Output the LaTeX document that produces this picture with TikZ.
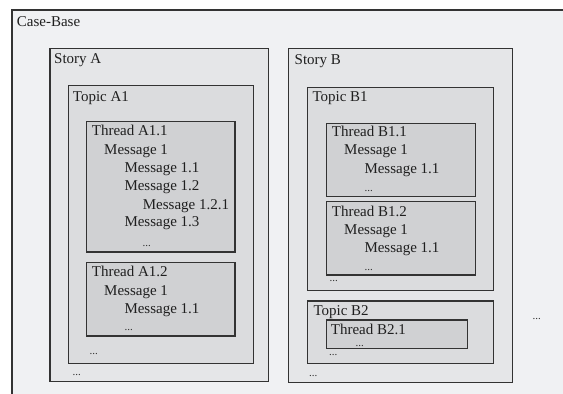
\documentclass[tikz,border=0pt]{standalone}
\usepackage{fontspec}
\setmainfont{Liberation Serif}
\begin{document}
\begin{tikzpicture}[x=1pt,y=-1pt,
  lvl/.style={draw=black!80, line width=1.1pt},
  casefill/.style={lvl, fill={rgb,255:red,240;green,241;blue,243}},
  storyfill/.style={lvl, fill={rgb,255:red,229;green,230;blue,232}},
  topicfill/.style={lvl, fill={rgb,255:red,219;green,220;blue,222}},
  threadfill/.style={lvl, fill={rgb,255:red,208;green,209;blue,211}},
  lab/.style={anchor=base west, inner sep=0pt, font=\fontsize{15}{18}\selectfont, text=black!88},
  dots/.style={anchor=base west, inner sep=0pt, font=\fontsize{11}{13}\selectfont, text=black!80}]
\useasboundingbox (0,0) rectangle (563,394);
\clip (0,0) rectangle (563,394);
\fill[white] (0,0) rectangle (563,394);
% boxes
\draw[casefill] (12,10) rectangle (575,405);
\draw[storyfill] (50,48.3) rectangle (268.3,381.7);
\draw[storyfill] (288.3,48.3) rectangle (512.3,382.7);
\draw[topicfill] (68.3,85.7) rectangle (253.3,363.3);
\draw[topicfill] (307.7,87.3) rectangle (493.3,290.7);
\draw[topicfill] (307.5,301) rectangle (493.3,363.3);
\draw[threadfill] (86.7,121.7) rectangle (235,252);
\draw[threadfill] (86.7,262.7) rectangle (235,336);
\draw[threadfill] (326.7,123.3) rectangle (475.5,196.7);
\draw[threadfill] (326.7,201.7) rectangle (475.5,275);
\draw[threadfill] (326.7,320) rectangle (467.3,348.3);
% labels
\node[lab] (cb) at (16.7,26.5) {Case-Base};
\node[lab] (sa) at (54,63.3) {Story A};
\node[lab] (sb) at (294.5,64.5) {Story B};
\node[lab] (ta1) at (72.7,101.7) {Topic A1};
\node[lab] (tb1) at (312.3,101.7) {Topic B1};
\node[lab] (tb2) at (313.3,315.7) {Topic B2};
% Thread A1.1
\node[lab] (tha11) at (91.7,135.7) {Thread A1.1};
\node[lab] (a11m1) at (104,154) {Message 1};
\node[lab] (a11m11) at (124.3,172.3) {Message 1.1};
\node[lab] (a11m12) at (124.3,190.7) {Message 1.2};
\node[lab] (a11m121) at (142.7,209) {Message 1.2.1};
\node[lab] (a11m13) at (124.3,226.7) {Message 1.3};
\node[dots] (a11d) at (142.5,246.5) {...};
% Thread A1.2
\node[lab] (tha12) at (91.7,276.7) {Thread A1.2};
\node[lab] (a12m1) at (104,295) {Message 1};
\node[lab] (a12m11) at (124.3,313.3) {Message 1.1};
\node[dots] (a12d) at (124.5,330.5) {...};
\node[dots] (ta1d) at (89.5,354.5) {...};
\node[dots] (sad) at (72.5,375.5) {...};
% Thread B1.1
\node[lab] (thb11) at (331.7,136.7) {Thread B1.1};
\node[lab] (b11m1) at (344,154.3) {Message 1};
\node[lab] (b11m11) at (364.3,173.3) {Message 1.1};
\node[dots] (b11d) at (364.5,191.5) {...};
% Thread B1.2
\node[lab] (thb12) at (331.7,216.7) {Thread B1.2};
\node[lab] (b12m1) at (344,234.3) {Message 1};
\node[lab] (b12m11) at (364.3,252.3) {Message 1.1};
\node[dots] (b12d) at (364.5,270.5) {...};
\node[dots] (tb1d) at (329.5,281.5) {...};
% Thread B2.1
\node[lab] (thb21) at (330.7,334) {Thread B2.1};
\node[dots] (b21d) at (355.5,346) {...};
\node[dots] (tb2d) at (329,355.5) {...};
\node[dots] (sbd) at (309,376.5) {...};
\node[dots] (cbd) at (532.5,319.5) {...};
\end{tikzpicture}
\end{document}
